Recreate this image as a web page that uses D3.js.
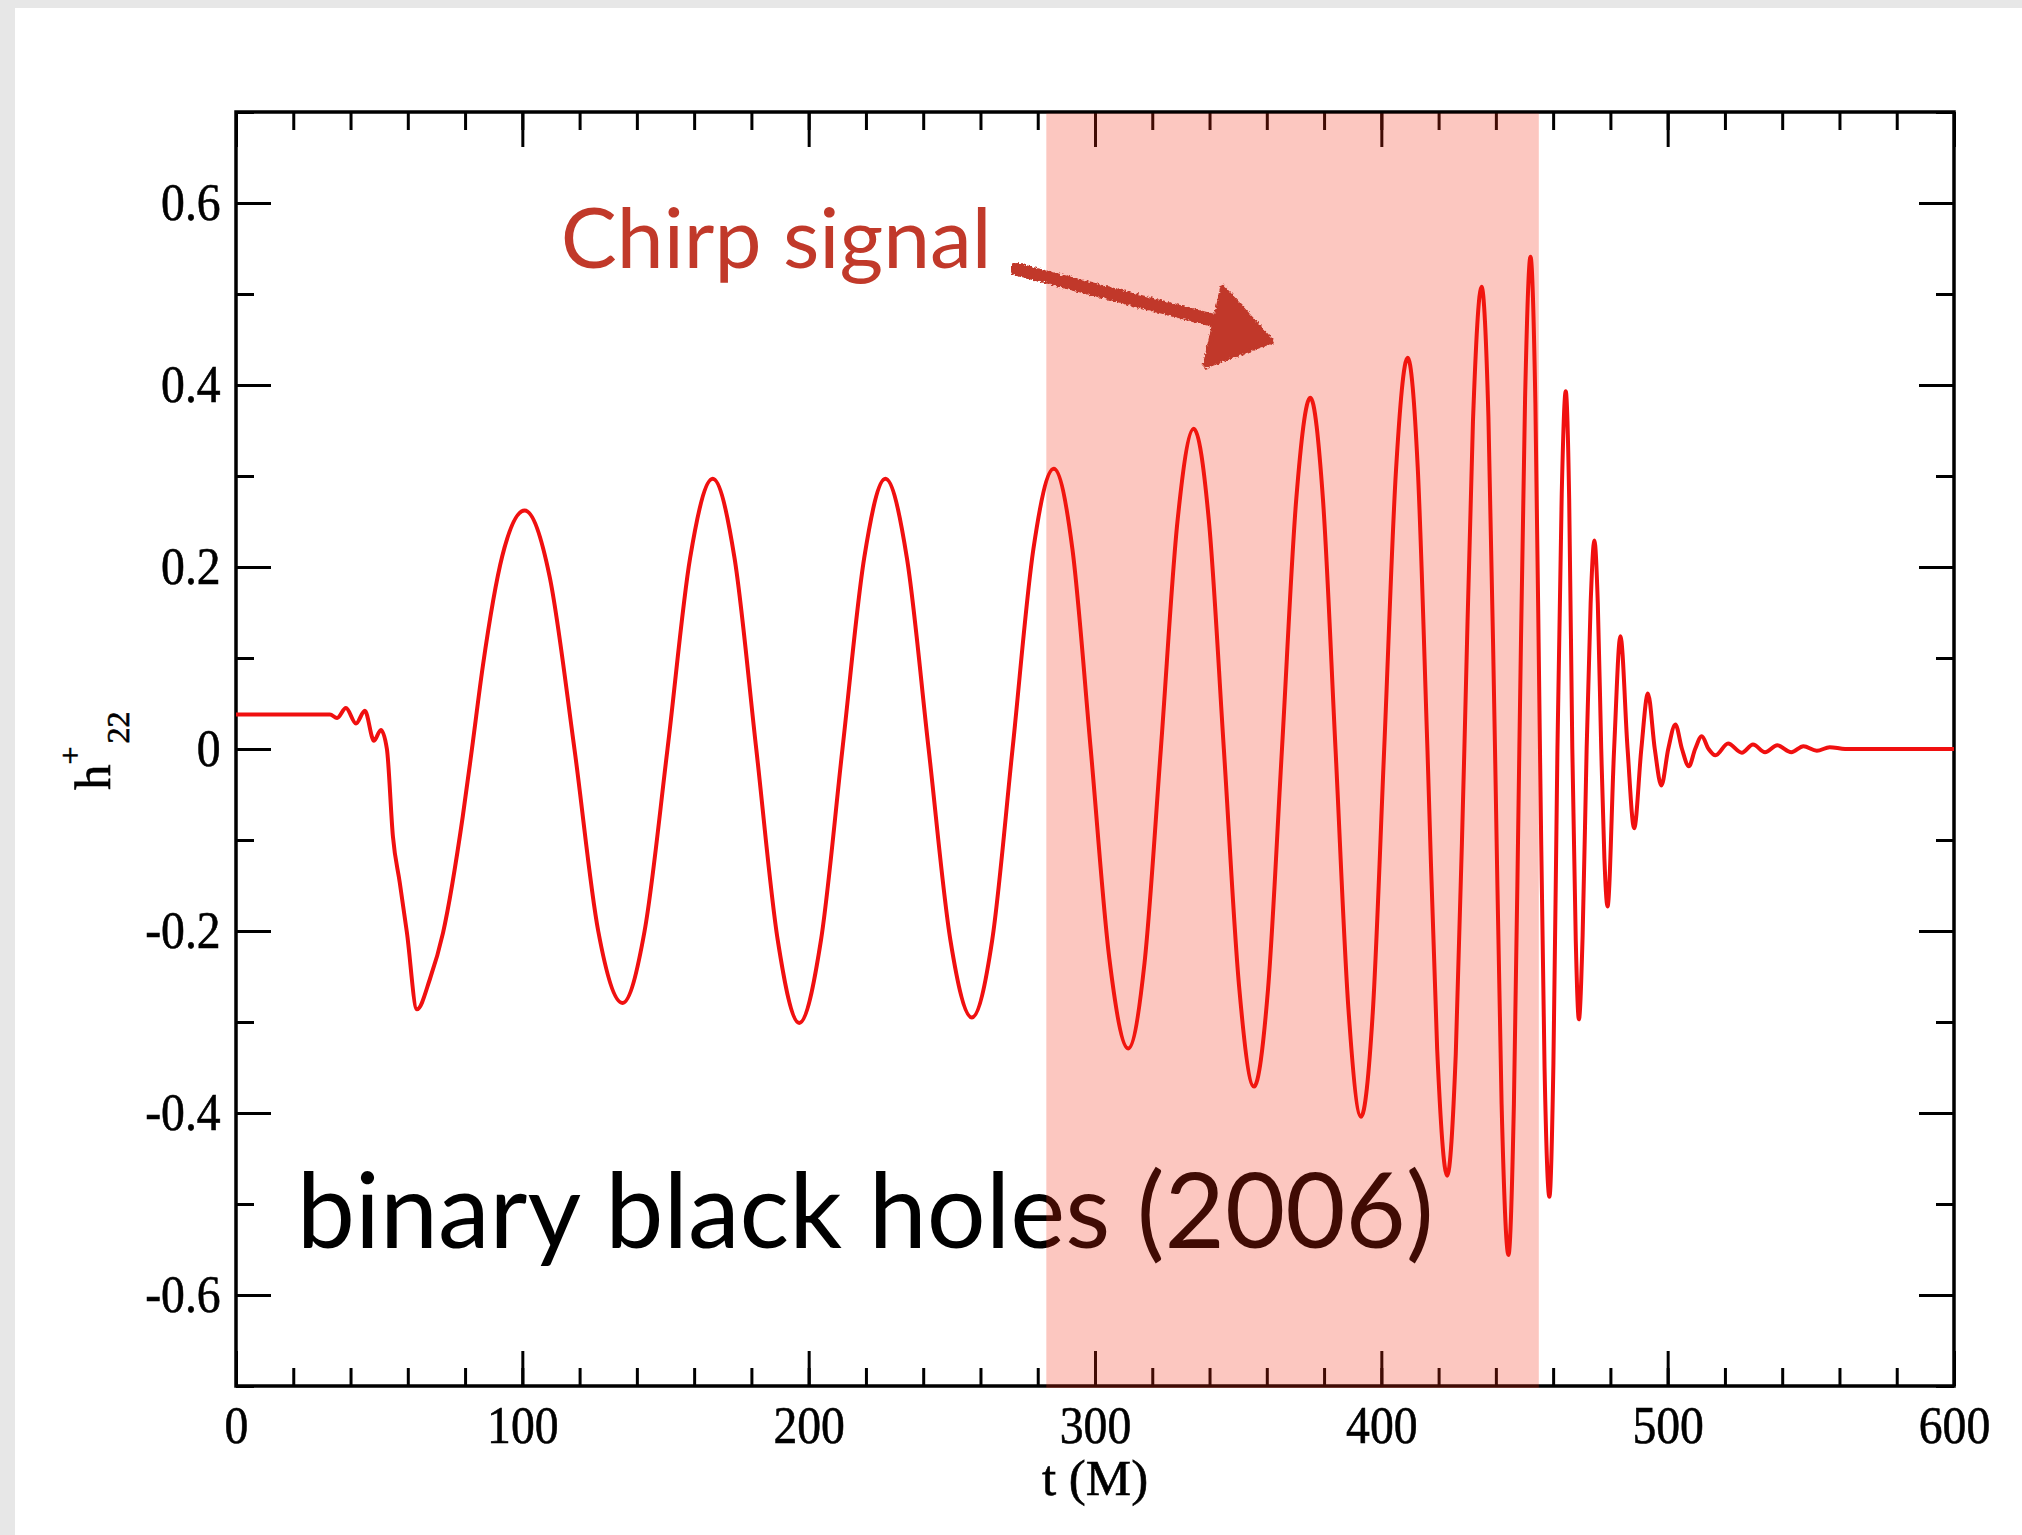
<!DOCTYPE html>
<html>
<head>
<meta charset="utf-8">
<script src="https://cdn.jsdelivr.net/npm/d3@7"></script>
<style>
  body { margin: 0; background: #fff; }
  svg { display: block; }
</style>
</head>
<body>
<svg id="chart"></svg>
<script>
// h+22 waveform, t in units of M
const waveT = [
  0, 32.8, 35.3, 38.4, 41.9, 45.0, 48.2, 50.6, 52.7, 54.8, 57.2, 59.7, 63.2, 67.7, 72.3, 79.2, 82.4, 86.2, 93.0, 100.8,
  109.5, 118.2, 126.5, 135.0, 142.7, 150.7, 158.6, 166.5, 174.1, 181.7, 189.2, 196.7,
  204.3, 211.8, 219.4, 226.8, 234.3, 241.9, 249.5, 257.0, 264.1, 271.2, 278.5, 285.6,
  292.1, 298.5, 305.0, 311.6, 317.3, 323.0, 328.8, 334.5, 339.8, 345.0, 350.3, 355.5,
  360.4, 365.3, 370.3, 375.2, 379.6, 384.0, 388.5, 392.9, 397.0, 401.0, 405.1, 409.2,
  412.7, 416.1, 419.5, 423.0, 426.0, 429.0, 432.0, 435.0, 437.4, 439.7, 442.0, 444.4,
  446.3, 448.2, 450.2, 452.1, 453.8, 455.4, 457.0, 458.7, 460.1, 461.5, 463.0, 464.4,
  465.6, 466.7, 467.9, 469.0, 470.3, 471.7, 473.1, 474.4, 475.6, 476.8, 477.9, 479.0,
  481.3, 483.5, 486.0, 488.3, 490.8, 493.1, 495.5, 497.8, 500.2, 502.7, 505.0, 507.4,
  509.6, 511.9, 514.3, 516.7, 521.1, 525.9, 529.8, 534.0, 538.3, 543.2, 547.4, 552.1,
  556.6, 562.0, 600
];
const waveH = [
  0.038, 0.038, 0.034, 0.045, 0.028, 0.042, 0.009, 0.021, 0.000, -0.096, -0.147, -0.202, -0.286, -0.253, -0.202, -0.074, 0, 0.091, 0.212, 0.262,
  0.19, 0, -0.20, -0.279, -0.20, 0, 0.21, 0.297, 0.21, 0, -0.21, -0.301,
  -0.21, 0, 0.21, 0.297, 0.21, 0, -0.21, -0.295, -0.21, 0, 0.22, 0.308,
  0.22, 0, -0.23, -0.329, -0.235, 0, 0.25, 0.352, 0.25, 0, -0.26, -0.371,
  -0.265, 0, 0.275, 0.386, 0.275, 0, -0.285, -0.404, -0.29, 0, 0.305, 0.430,
  0.31, 0, -0.33, -0.469, -0.335, 0, 0.36, 0.508, 0.365, 0, -0.39, -0.556,
  -0.39, 0, 0.385, 0.541, 0.38, 0, -0.35, -0.492, -0.345, 0, 0.28, 0.393,
  0.275, 0, -0.21, -0.297, -0.205, 0, 0.16, 0.229, 0.16, 0, -0.12, -0.173,
  0, 0.124, 0, -0.087, 0, 0.061, 0, -0.040, 0, 0.027, 0, -0.019,
  0, 0.014, 0, -0.007, 0.006, -0.004, 0.005, -0.0035, 0.004, -0.0035, 0.003, -0.002,
  0.002, 0, 0
];

const xMajor = [0, 100, 200, 300, 400, 500, 600];
const xTickLabels = ['0', '100', '200', '300', '400', '500', '600'];
const yMajor = [-0.6, -0.4, -0.2, 0, 0.2, 0.4, 0.6];
const yTickLabels = ['-0.6', '-0.4', '-0.2', '0', '0.2', '0.4', '0.6'];
const chirpWindow = [283, 455];

const width = 2022, height = 1535;
const margin = { top: 112, right: 68, bottom: 149, left: 236 };

const svg = d3.select('#chart')
    .attr('width', width)
    .attr('height', height);

// slide background with a grey frame on the left/top
svg.append('rect').attr('width', width).attr('height', height).attr('fill', '#e7e7e7');
svg.append('rect').attr('x', 15).attr('y', 8)
    .attr('width', width - 15).attr('height', height - 8).attr('fill', '#fff');

const x = d3.scaleLinear().domain([0, 600]).range([margin.left, width - margin.right]);
const y = d3.scaleLinear().domain([-0.7, 0.7]).range([height - margin.bottom, margin.top]);

const majorLen = 35, minorLen = 18;
const minorX = d3.range(0, 601, 20);
const minorY = d3.range(-7, 8).map(d => d / 10);

function styleAxis(g) {
    g.select('.domain').remove();
    g.selectAll('line').attr('stroke', '#000').attr('stroke-width', 3);
    g.attr('font-family', '"Liberation Serif", "Times New Roman", serif')
     .attr('font-size', 53);
    g.selectAll('text').attr('fill', '#000').attr('transform', 'scale(0.9,1)')
     .attr('stroke', '#000').attr('stroke-width', 0.6);
}

// bottom + top
svg.append('g').attr('transform', `translate(0,${y(-0.7)})`)
    .call(d3.axisBottom(x).tickValues(minorX).tickSize(-minorLen).tickFormat(''))
    .call(styleAxis);
svg.append('g').attr('transform', `translate(0,${y(-0.7)})`)
    .call(d3.axisBottom(x).tickValues(xMajor).tickSize(-majorLen).tickPadding(19)
        .tickFormat((d, i) => xTickLabels[i]))
    .call(styleAxis);
svg.append('g').attr('transform', `translate(0,${y(0.7)})`)
    .call(d3.axisTop(x).tickValues(minorX).tickSize(-minorLen).tickFormat(''))
    .call(styleAxis);
svg.append('g').attr('transform', `translate(0,${y(0.7)})`)
    .call(d3.axisTop(x).tickValues(xMajor).tickSize(-majorLen).tickFormat(''))
    .call(styleAxis);

// left + right
svg.append('g').attr('transform', `translate(${x(0)},0)`)
    .call(d3.axisLeft(y).tickValues(minorY).tickSize(-minorLen).tickFormat(''))
    .call(styleAxis);
svg.append('g').attr('transform', `translate(${x(0)},0)`)
    .call(d3.axisLeft(y).tickValues(yMajor).tickSize(-majorLen).tickPadding(17)
        .tickFormat((d, i) => yTickLabels[i]))
    .call(styleAxis);
svg.append('g').attr('transform', `translate(${x(600)},0)`)
    .call(d3.axisRight(y).tickValues(minorY).tickSize(-minorLen).tickFormat(''))
    .call(styleAxis);
svg.append('g').attr('transform', `translate(${x(600)},0)`)
    .call(d3.axisRight(y).tickValues(yMajor).tickSize(-majorLen).tickFormat(''))
    .call(styleAxis);

// plot frame
svg.append('rect')
    .attr('x', x(0)).attr('y', y(0.7))
    .attr('width', x(600) - x(0)).attr('height', y(-0.7) - y(0.7))
    .attr('fill', 'none').attr('stroke', '#000').attr('stroke-width', 3.5);

// axis titles
svg.append('text')
    .attr('x', x(300)).attr('y', y(-0.7) + 109)
    .attr('text-anchor', 'middle')
    .attr('font-family', '"Liberation Serif", "Times New Roman", serif')
    .attr('font-size', 51)
    .attr('stroke', '#000').attr('stroke-width', 0.6)
    .text('t (M)');

const yTitle = svg.append('text')
    .attr('transform', `translate(110,790) rotate(-90)`)
    .attr('font-family', '"Liberation Serif", "Times New Roman", serif')
    .attr('font-size', 51)
    .attr('stroke', '#000').attr('stroke-width', 0.6);
yTitle.append('tspan').text('h');
yTitle.append('tspan').attr('font-size', 32).attr('dy', -29).attr('dx', 0).text('+');
yTitle.append('tspan').attr('font-size', 32).attr('dy', 48).attr('dx', 3).text('22');

// waveform
const wave = d3.line()
    .x((d, i) => x(waveT[i]))
    .y((d, i) => y(waveH[i]))
    .curve(d3.curveMonotoneX);

svg.append('path')
    .datum(waveT)
    .attr('d', wave)
    .attr('fill', 'none')
    .attr('stroke', '#f01010')
    .attr('stroke-width', 4)
    .attr('stroke-linejoin', 'round');

// slide caption
svg.append('text')
    .attr('x', x(21.2)).attr('y', y(-0.548))
    .attr('font-family', 'Lato, "Open Sans", sans-serif')
    .attr('font-size', 104)
    .attr('fill', '#000')
    .text('binary black holes (2006)');

// chirp window shading (on top of curve and caption)
svg.append('rect')
    .attr('x', x(chirpWindow[0])).attr('y', y(0.7) + 1.5)
    .attr('width', x(chirpWindow[1]) - x(chirpWindow[0]))
    .attr('height', y(-0.7) - y(0.7) + 0.5)
    .attr('fill', 'rgb(245,40,15)')
    .attr('fill-opacity', 0.263);

// annotation
const annoColor = '#c1392a';
svg.append('text')
    .attr('x', x(113.4)).attr('y', y(0.529))
    .attr('font-family', 'Lato, "Open Sans", sans-serif')
    .attr('font-size', 84)
    .attr('fill', annoColor)
    .text('Chirp signal');

const defs = svg.append('defs');
const rough = defs.append('filter').attr('id', 'rough')
    .attr('x', '-20%').attr('y', '-20%').attr('width', '140%').attr('height', '140%');
rough.append('feTurbulence').attr('type', 'fractalNoise')
    .attr('baseFrequency', 0.35).attr('numOctaves', 2).attr('seed', 3).attr('result', 'noise');
rough.append('feDisplacementMap').attr('in', 'SourceGraphic').attr('in2', 'noise')
    .attr('scale', 5).attr('xChannelSelector', 'R').attr('yChannelSelector', 'G');

const arrow = svg.append('g').attr('filter', 'url(#rough)');
arrow.append('line')
    .attr('x1', x(272.9)).attr('y1', y(0.527))
    .attr('x2', x(345)).attr('y2', y(0.468))
    .attr('stroke', annoColor).attr('stroke-width', 13).attr('stroke-linecap', 'round');
arrow.append('path')
    .attr('d', d3.line()([
        [x(344.5), y(0.508)],
        [x(361.9), y(0.448)],
        [x(338.2), y(0.420)]
    ]) + 'Z')
    .attr('fill', annoColor)
    .attr('stroke', annoColor).attr('stroke-width', 4).attr('stroke-linejoin', 'round');
</script>
</body>
</html>
